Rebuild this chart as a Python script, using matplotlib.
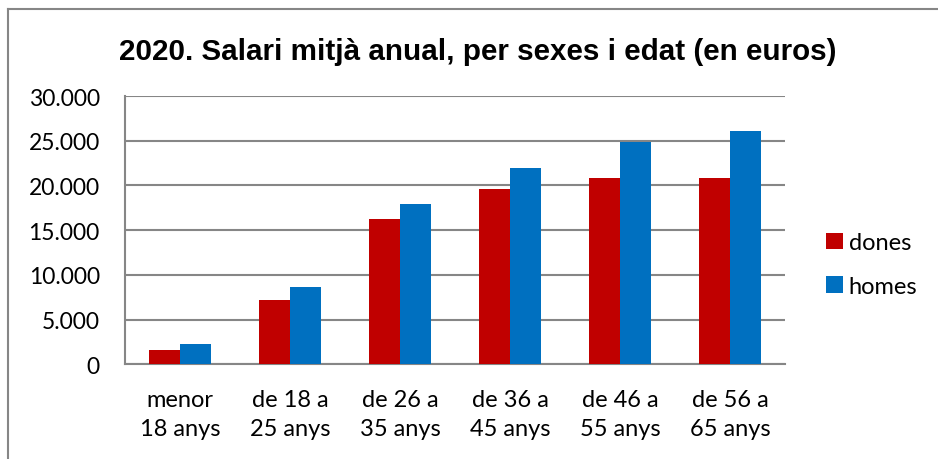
import matplotlib
matplotlib.use("Agg")
import matplotlib.pyplot as plt
from matplotlib.lines import Line2D
from matplotlib.ticker import FuncFormatter
import numpy as np

# Data
categories = ["menor\n18 anys", "de 18 a\n25 anys", "de 26 a\n35 anys",
              "de 36 a\n45 anys", "de 46 a\n55 anys", "de 56 a\n65 anys"]
dones = [1570, 7170, 16290, 19580, 20850, 20820]
homes = [2280, 8670, 17930, 21970, 24810, 26080]
yticks = [0, 5000, 10000, 15000, 20000, 25000, 30000]

RED = "#C00000"
BLUE = "#0070C0"
GRID = "#868686"
LABEL_FONT = "Lato"


def thousands(v, pos):
    return f"{int(v):,}".replace(",", ".")


def main():
    fig = plt.figure(figsize=(9.38, 4.6), dpi=100)
    ax = fig.add_axes([0.133, 0.206, 0.704, 0.583])

    x = np.arange(len(categories))
    w = 0.28
    ax.bar(x - w / 2, dones, w, color=RED, label="dones", zorder=3)
    ax.bar(x + w / 2, homes, w, color=BLUE, label="homes", zorder=3)

    ax.set_xlim(-0.5, len(categories) - 0.5)
    ax.set_ylim(0, 30000)
    ax.set_yticks(yticks)
    ax.yaxis.set_major_formatter(FuncFormatter(thousands))
    ax.set_xticks(x)
    ax.set_xticklabels(categories, fontfamily=LABEL_FONT, fontsize=17,
                       linespacing=1.45)
    for lbl in ax.get_yticklabels():
        lbl.set_fontfamily(LABEL_FONT)
        lbl.set_fontsize(16.5)
    ax.tick_params(axis="y", length=0, pad=18)
    ax.tick_params(axis="x", length=0, pad=18)

    ax.grid(axis="y", color=GRID, linewidth=1.5, zorder=0)
    for side in ("top", "right"):
        ax.spines[side].set_visible(False)
    for side in ("left", "bottom"):
        ax.spines[side].set_color(GRID)
        ax.spines[side].set_linewidth(1.5)

    fig.text(0.509, 0.887, "2020. Salari mitjà anual, per sexes i edat (en euros)",
             ha="center", va="center", fontsize=21.3, fontweight="bold",
             fontfamily="Liberation Sans")

    ax.legend(loc="center left", bbox_to_anchor=(1.03, 0.372), frameon=False,
              prop={"family": LABEL_FONT, "size": 17}, handlelength=0.7,
              handleheight=0.7, handletextpad=0.25, labelspacing=0.95)

    # outer chart border (left and top are visible in the reference)
    fig.add_artist(Line2D([0.009, 0.009], [0.0, 0.978], transform=fig.transFigure,
                          color=GRID, linewidth=1.5))
    fig.add_artist(Line2D([0.009, 1.0], [0.978, 0.978], transform=fig.transFigure,
                          color=GRID, linewidth=1.5))

    fig.savefig("out.png", dpi=100)


if __name__ == "__main__":
    main()
